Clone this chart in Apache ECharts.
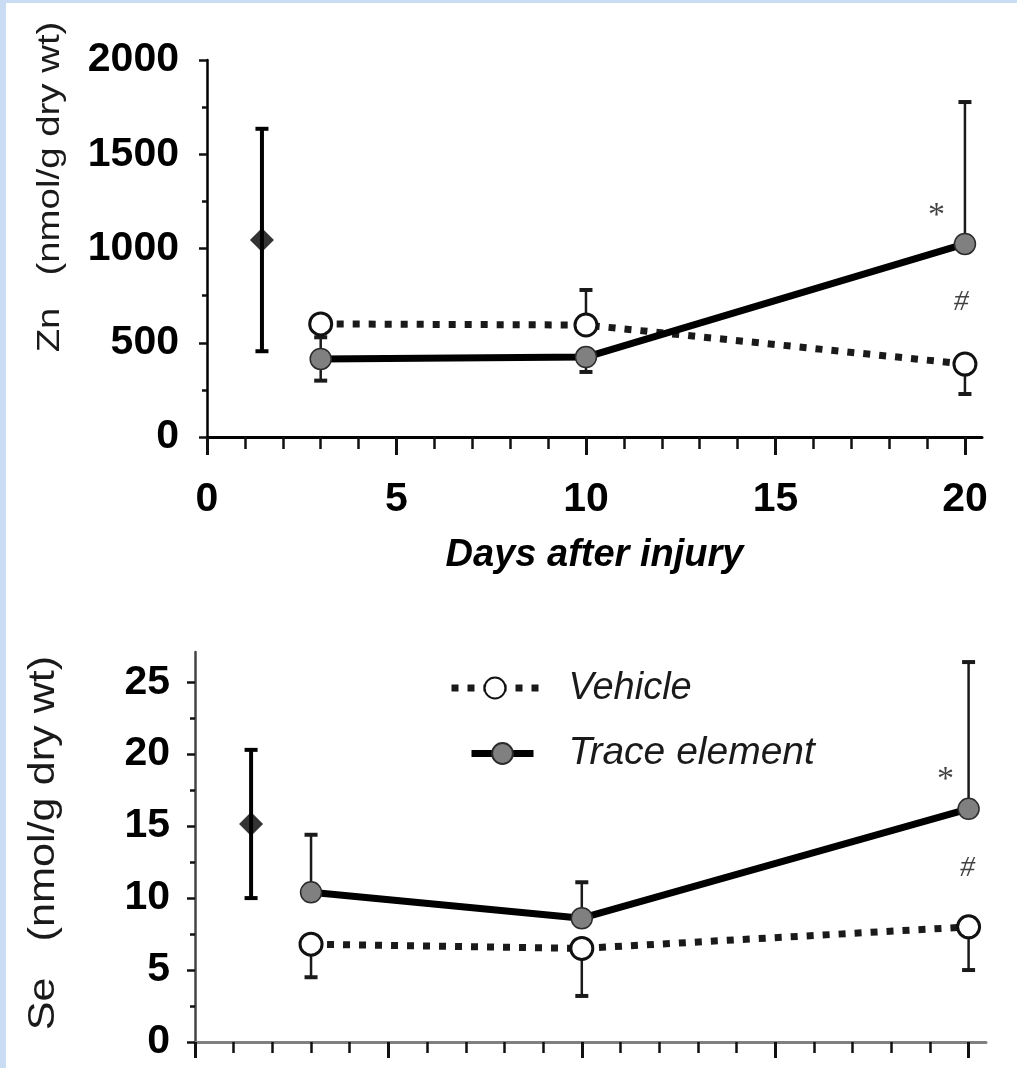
<!DOCTYPE html>
<html>
<head>
<meta charset="utf-8">
<script src="https://cdn.jsdelivr.net/npm/echarts@6/dist/echarts.min.js"></script>
<style>
  html, body { margin: 0; padding: 0; background: #fff; }
  #chart { width: 1017px; height: 1068px; }
</style>
</head>
<body>
<div id="chart"></div>
<script>
// Sampling days after injury
const days = [3, 10, 20];
// Uninjured reference animals, plotted just left of the first time point
const normalDay = 1.45;

const xTicksMajor = [0, 5, 10, 15, 20];
const xTicksMinor = [0, 1, 2, 3, 4, 5, 6, 7, 8, 9, 10, 11, 12, 13, 14, 15, 16, 17, 18, 19, 20];

// Zinc content (nmol/g dry wt)
const znTicks = [0, 500, 1000, 1500, 2000];
const znMinorTicks = [250, 750, 1250, 1750];
const znNormal = 1045;
const znNormalSD = 590;
const znVehicle = [600, 594, 387];
const znVehicleUp = [null, 186, null];
const znVehicleDown = [null, null, 159];
const znTrace = [414, 424, 1024];
const znTraceUp = [115, null, 753];
const znTraceDown = [115, 79, null];

// Selenium content (nmol/g dry wt)
const seTicks = [0, 5, 10, 15, 20, 25];
const seMinorTicks = [2.5, 7.5, 12.5, 17.5, 22.5];
const seNormal = 15.15;
const seNormalSD = 5.15;
const seVehicle = [6.8, 6.5, 8.0];
const seVehicleUp = [null, null, null];
const seVehicleDown = [2.3, 3.3, 3.0];
const seTrace = [10.4, 8.6, 16.2];
const seTraceUp = [4.0, 2.5, 10.2];
const seTraceDown = [null, null, null];

// Significance marks at day 20 (* vs vehicle, # vs normal)
const znMarks = [[19.25, 1172, '*'], [19.9, 716, '#']];
const seMarks = [[19.4, 18.2, '*'], [19.97, 12.1, '#']];

const FONT = 'Liberation Sans, Arial, sans-serif';
const X_MAX = 20.45;
const DOTS = [7, 9];

// one-sided whisker items: [x, mean, end]
function whiskerItems(xs, mean, sd, dir) {
  const out = [];
  xs.forEach((x, i) => {
    if (sd[i] != null) out.push([x, mean[i], mean[i] + dir * sd[i]]);
  });
  return out;
}

function whiskerSeries(axisIdx, items, lineWidth, color) {
  return {
    type: 'custom',
    xAxisIndex: axisIdx, yAxisIndex: axisIdx,
    silent: true, z: 1, clip: false,
    encode: { x: 0, y: [1, 2] },
    data: items,
    renderItem(params, api) {
      const base = api.coord([api.value(0), api.value(1)]);
      const end = api.coord([api.value(0), api.value(2)]);
      const half = 6.5;
      return {
        type: 'group',
        children: [
          { type: 'line', shape: { x1: base[0], y1: base[1], x2: end[0], y2: end[1] },
            style: { stroke: color, lineWidth: lineWidth } },
          { type: 'line', shape: { x1: end[0] - half, y1: end[1], x2: end[0] + half, y2: end[1] },
            style: { stroke: color, lineWidth: 4 } }
        ]
      };
    }
  };
}

function pairs(xs, ys) { return xs.map((x, i) => [x, ys[i]]); }

const vehicleStyle = {
  symbol: 'circle', symbolSize: 22,
  itemStyle: { color: '#ffffff', borderColor: '#111', borderWidth: 3 },
  lineStyle: { color: '#1a1a1a', width: 7, type: DOTS, cap: 'butt' }
};
const traceStyle = {
  symbol: 'circle', symbolSize: 21,
  itemStyle: { color: '#808080', borderColor: '#2b2b2b', borderWidth: 1.5 },
  lineStyle: { color: '#000', width: 7, type: 'solid' }
};

function markSeries(axisIdx, marks) {
  return {
    type: 'scatter', xAxisIndex: axisIdx, yAxisIndex: axisIdx,
    silent: true, z: 5, symbolSize: 0,
    data: marks.map(m => [m[0], m[1]]),
    label: {
      show: true, position: 'inside',
      formatter: p => marks[p.dataIndex][2] === '*' ? '{s|*}' : '{h|#}',
      rich: {
        s: { fontFamily: 'Liberation Serif, serif', fontSize: 34, color: '#111' },
        h: { fontFamily: 'Liberation Serif, serif', fontStyle: 'italic', fontSize: 30, color: '#111' }
      }
    }
  };
}

const plain = v => String(v);

function xAxesFor(gridIndex, lineColor, showLabels, minorLen, majorLen) {
  return [
    {
      gridIndex, type: 'value', min: 0, max: X_MAX, position: 'bottom',
      axisLine: { show: true, onZero: false, lineStyle: { color: lineColor, width: 3 } },
      axisTick: { show: true, customValues: xTicksMinor, length: minorLen, lineStyle: { color: '#111', width: 2.5 } },
      axisLabel: { show: false },
      splitLine: { show: false }
    },
    {
      gridIndex, type: 'value', min: 0, max: X_MAX, position: 'bottom',
      axisLine: { show: false, onZero: false },
      axisTick: { show: true, customValues: xTicksMajor, length: majorLen, lineStyle: { color: '#111', width: 3 } },
      axisLabel: {
        show: showLabels, customValues: xTicksMajor, margin: 42, formatter: plain,
        fontFamily: FONT, fontWeight: 'bold', fontSize: 41, color: '#000'
      },
      splitLine: { show: false },
      name: showLabels ? 'Days after injury' : '',
      nameLocation: 'middle', nameGap: 100,
      nameTextStyle: { fontFamily: FONT, fontWeight: 'bold', fontStyle: 'italic', fontSize: 38, color: '#000' }
    }
  ];
}

function yAxesFor(gridIndex, max, ticks, minor, lineColor, margin) {
  return [
    {
      gridIndex, type: 'value', min: 0, max: max, position: 'left',
      axisLine: { show: true, onZero: false, lineStyle: { color: lineColor, width: 2.5 } },
      axisTick: { show: true, customValues: ticks, length: 8, lineStyle: { color: '#111', width: 2.5 } },
      axisLabel: { customValues: ticks, margin: margin, formatter: plain, fontFamily: FONT, fontWeight: 'bold', fontSize: 41, color: '#000' },
      splitLine: { show: false }
    },
    {
      gridIndex, type: 'value', min: 0, max: max, position: 'left',
      axisLine: { show: false, onZero: false },
      axisTick: { show: true, customValues: minor, length: 5, lineStyle: { color: '#111', width: 2.5 } },
      axisLabel: { show: false },
      splitLine: { show: false }
    }
  ];
}

const chart = echarts.init(document.getElementById('chart'), null, { renderer: 'canvas' });

chart.setOption({
  animation: false,
  backgroundColor: '#ffffff',
  grid: [
    { left: 207, top: 60, width: 775, height: 377 },
    { left: 195, top: 652, width: 791, height: 390 }
  ],
  xAxis: [
    ...xAxesFor(0, '#000', true, 12, 18),
    ...xAxesFor(1, '#808080', false, 11, 16)
  ],
  yAxis: [
    ...yAxesFor(0, 2000, znTicks, znMinorTicks, '#000', 28),
    ...yAxesFor(1, 27.1, seTicks, seMinorTicks, '#444', 25)
  ],
  legend: [
    {
      data: ['Vehicle'], left: 448, top: 669, padding: 0,
      itemWidth: 87, itemHeight: 26, selectedMode: false,
      lineStyle: { width: 7, type: DOTS, color: '#1a1a1a' },
      textStyle: { fontFamily: FONT, fontStyle: 'italic', fontSize: 38, color: '#1a1a1a', padding: [0, 0, 0, 25] }
    },
    {
      data: ['Trace element'], left: 468, top: 734, padding: 0,
      itemWidth: 62, itemHeight: 26, selectedMode: false,
      lineStyle: { width: 7, color: '#000' },
      textStyle: { fontFamily: FONT, fontStyle: 'italic', fontSize: 39, color: '#1a1a1a', padding: [0, 0, 0, 30] }
    }
  ],
  graphic: [
    { type: 'rect', shape: { x: 0, y: 0, width: 6, height: 1068 }, style: { fill: '#c9dcf3' }, silent: true },
    { type: 'rect', shape: { x: 0, y: 0, width: 1017, height: 3 }, style: { fill: '#c9dcf3' }, silent: true },
    {
      type: 'text', x: 50, y: 187, rotation: Math.PI / 2, scaleX: 1.2, silent: true,
      style: { text: 'Zn   (nmol/g dry wt)', font: '32px ' + FONT, fill: '#1a1a1a', align: 'center', verticalAlign: 'middle' }
    },
    {
      type: 'text', x: 44, y: 843, rotation: Math.PI / 2, scaleX: 1.2, silent: true,
      style: { text: 'Se   (nmol/g dry wt)', font: '36px ' + FONT, fill: '#1a1a1a', align: 'center', verticalAlign: 'middle' }
    }
  ],
  series: [
    // Zn panel
    whiskerSeries(0, [[normalDay, znNormal, znNormal + znNormalSD], [normalDay, znNormal, znNormal - znNormalSD]], 4, '#000'),
    whiskerSeries(0, whiskerItems(days, znVehicle, znVehicleUp, 1).concat(whiskerItems(days, znVehicle, znVehicleDown, -1)), 2.5, '#1a1a1a'),
    whiskerSeries(0, whiskerItems(days, znTrace, znTraceUp, 1).concat(whiskerItems(days, znTrace, znTraceDown, -1)), 2.5, '#1a1a1a'),
    { type: 'line', name: 'Vehicle', xAxisIndex: 0, yAxisIndex: 0, data: pairs(days, znVehicle), z: 2, ...vehicleStyle },
    { type: 'line', name: 'Trace element', xAxisIndex: 0, yAxisIndex: 0, data: pairs(days, znTrace), z: 3, ...traceStyle },
    { type: 'scatter', xAxisIndex: 0, yAxisIndex: 0, data: [[normalDay, znNormal]], symbol: 'diamond', symbolSize: [24, 24], itemStyle: { color: '#000' }, z: 4, silent: true },
    markSeries(0, znMarks),

    // Se panel
    whiskerSeries(2, [[normalDay, seNormal, seNormal + seNormalSD], [normalDay, seNormal, seNormal - seNormalSD]], 4, '#000'),
    whiskerSeries(2, whiskerItems(days, seVehicle, seVehicleUp, 1).concat(whiskerItems(days, seVehicle, seVehicleDown, -1)), 2.5, '#1a1a1a'),
    whiskerSeries(2, whiskerItems(days, seTrace, seTraceUp, 1).concat(whiskerItems(days, seTrace, seTraceDown, -1)), 2.5, '#1a1a1a'),
    { type: 'line', name: 'Vehicle', xAxisIndex: 2, yAxisIndex: 2, data: pairs(days, seVehicle), z: 2, ...vehicleStyle },
    { type: 'line', name: 'Trace element', xAxisIndex: 2, yAxisIndex: 2, data: pairs(days, seTrace), z: 3, ...traceStyle },
    { type: 'scatter', xAxisIndex: 2, yAxisIndex: 2, data: [[normalDay, seNormal]], symbol: 'diamond', symbolSize: [24, 24], itemStyle: { color: '#000' }, z: 4, silent: true },
    markSeries(2, seMarks)
  ]
});
</script>
</body>
</html>
